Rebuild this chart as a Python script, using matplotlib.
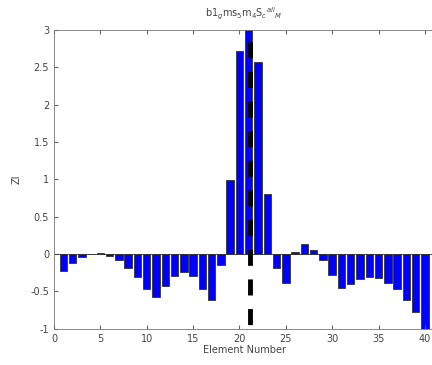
import numpy as np
import matplotlib
matplotlib.use("Agg")
import matplotlib.pyplot as plt

# element index and ZI values
elements = np.arange(1, 41)
zi = [-0.23, -0.12, -0.04, 0.005, 0.01, -0.03, -0.08, -0.19, -0.31, -0.46,
      -0.58, -0.43, -0.29, -0.24, -0.29, -0.47, -0.61, -0.14, 0.99, 2.72,
      3.2, 2.57, 0.80, -0.18, -0.38, 0.035, 0.14, 0.05, -0.08, -0.28,
      -0.45, -0.40, -0.33, -0.31, -0.32, -0.38, -0.47, -0.61, -0.78, -1.2]
marker_x = 21.1
x_ticks = [0, 5, 10, 15, 20, 25, 30, 35, 40]
y_ticks = [-1, -0.5, 0, 0.5, 1, 1.5, 2, 2.5, 3]
title = r"b1$_g$ms$_5$m$_4$S$_c$$^{ali}$$_M$"

txt = "#444444"
plt.rcParams['font.family'] = ['DejaVu Sans']

fig = plt.figure(figsize=(4.32, 3.65), dpi=100)
ax = fig.add_axes([0.125, 0.099, 0.88, 0.819])

ax.bar(elements, zi, width=0.8, color="#0000ff", edgecolor="#333333", linewidth=0.6)
ax.axhline(0, color="#333333", linewidth=0.6)
# thick dashed marker line, dash pattern in linewidth units
ax.axvline(marker_x, color="black", linewidth=3.5, linestyle=(5.2, (3.3, 2.8)))

ax.set_xlim(0, 41)
ax.set_ylim(-1, 3)
ax.set_xticks(x_ticks)
ax.set_yticks(y_ticks)
ax.set_yticklabels([f"{v:g}" for v in y_ticks])
ax.tick_params(direction="in", top=True, right=False, length=3,
               labelsize=7, colors="#666666", labelcolor=txt)
for s in ax.spines.values():
    s.set_color("#777777")
    s.set_linewidth(0.6)

ax.set_title(title, fontsize=7, color=txt, pad=9)
ax.set_xlabel("Element Number", fontsize=7, color=txt, labelpad=1)
ax.set_ylabel("ZI", fontsize=7, color=txt, labelpad=6)

fig.savefig("out.png", dpi=100)
